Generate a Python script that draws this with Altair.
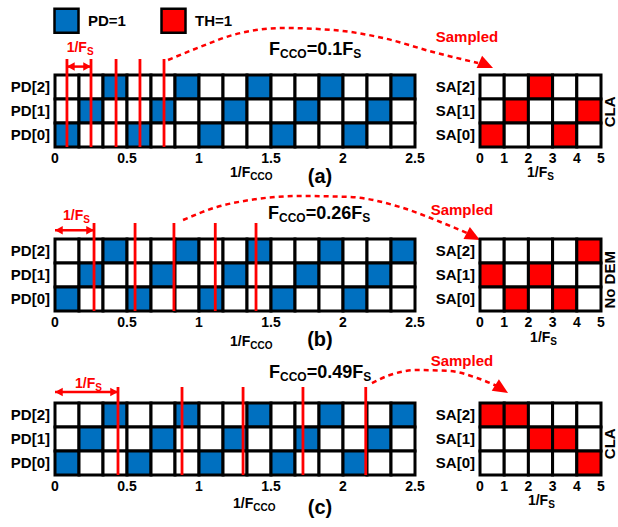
import altair as alt
import pandas as pd

FONT = "Liberation Sans"
BLUE = "#0070c0"
RED = "#ff0000"

# ---------------- data ----------------
pd_rows = ["PD[2]", "PD[1]", "PD[0]"]          # top to bottom
sa_rows = ["SA[2]", "SA[1]", "SA[0]"]
# which PD bit is high in each of the 15 cells of the CCO phase grid
pd_high = [0, 1, 2, 0, 1, 2, 0, 1, 2, 0, 1, 2, 0, 1, 2]
pd_span = 2.5                                   # grid length in 1/F_CCO
x_ticks_cco = [0, 0.5, 1, 1.5, 2, 2.5]
x_ticks_s = [0, 1, 2, 3, 4, 5]
fcco_ratio = ["0.1", "0.26", "0.49"]
# sampling instants (1/F_CCO units)
samples = [
    [0.083, 0.25, 0.424, 0.59, 0.757],
    [0.271, 0.556, 0.826, 1.113, 1.396],
    [0.4375, 0.882, 1.306, 1.722, 2.158],
]
# which SA bit is high in each 1/F_S slot
sa_high = [
    [0, 1, 2, 0, 1],
    [1, 0, 1, 0, 2],
    [2, 2, 1, 1, 0],
]
side_labels = ["CLA", "No DEM", "CLA"]
panel_labels = ["(a)", "(b)", "(c)"]
legend_labels = ["PD=1", "TH=1"]

# ---------------- annotation geometry (data units of each panel) ----------------
ANN = [
    dict(title=(1.486, -0.833), sampled=(2.861, -1.583), fs_label=(0.081, -0.958),
         fs_arrow=("between", -0.35),
         curve=[(0.785, -0.625), (1.007, -1.167), (1.236, -1.667), (1.583, -1.958),
                (1.931, -1.875), (2.278, -1.542), (2.625, -0.958), (2.938, -0.5)],
         tip=(3.042, -0.29), tip_angle=24,
         xtitle=(1.215, 4.25), stitle=(1.942, 4.25), plabel=(1.84, 4.25), side=(5.36, 1.54)),
    dict(title=(1.479, -0.833), sampled=(2.826, -1.208), fs_label=(0.056, -0.792),
         fs_arrow=("from0", -0.36),
         curve=[(0.889, -0.792), (1.125, -1.333), (1.354, -1.625), (1.701, -1.792),
                (2.049, -1.75), (2.396, -1.333), (2.694, -0.667), (2.861, -0.25)],
         tip=(2.951, 0.042), tip_angle=28,
         xtitle=(1.215, 4.46), stitle=(2.07, 4.3), plabel=(1.84, 4.2), side=(5.36, 1.7)),
    dict(title=(1.486, -1.042), sampled=(2.826, -1.75), fs_label=(0.139, -0.625),
         fs_arrow=("from0", -0.46),
         curve=[(2.201, -0.833), (2.326, -1.167), (2.514, -1.375), (2.743, -1.333),
                (2.931, -1.042), (3.069, -0.708)],
         tip=(3.146, -0.417), tip_angle=32,
         xtitle=(1.236, 4.375), stitle=(1.98, 4.25), plabel=(1.84, 4.375), side=(5.36, 1.7)),
]

LW, RW, H = 360, 121, 72
PPX_L = LW / pd_span
PPX_R = RW / 5.0
PPY = H / 3.0
LABEL_PAD = 5.0
GRID_SW = 3
RED_SW = 2.8

ADV = {"0": .556, "1": .556, "2": .556, "3": .556, "4": .556, "5": .556, "6": .556,
       "7": .556, "8": .556, "9": .556, ".": .278, "/": .278, "=": .584, "F": .611,
       "C": .722, "O": .778, "S": .667}


def text_w(s, size):
    return sum(ADV.get(ch, 0.6) for ch in s) * size


def pieces(x0, y0, parts, ppx):
    rows, cur = [], 0.0
    for t, size, sub in parts:
        rows.append(dict(x=x0 + cur / ppx, y=y0 + (3.0 / PPY if sub else 0.0), t=t, fs=size))
        cur += text_w(t, size)
    return pd.DataFrame(rows)


COLOR = alt.Color(
    "state:N",
    scale=alt.Scale(domain=["PD=1", "TH=1", "off"], range=[BLUE, RED, "white"]),
    legend=alt.Legend(
        orient="none", legendX=-2, legendY=-68, direction="horizontal", title=None,
        values=legend_labels, symbolType="square", symbolSize=576,
        symbolStrokeColor="black", symbolStrokeWidth=2.5, symbolOpacity=1,
        labelFont=FONT, labelFontSize=15, labelFontWeight="bold", labelColor="black",
        labelOffset=8, columnPadding=30, padding=0,
    ),
)


def text_layer(df, color="black", align="left", baseline="alphabetic"):
    return alt.Chart(df).mark_text(align=align, baseline=baseline, font=FONT,
                                   fontWeight="bold", color=color).encode(
        x="x:Q", y="y:Q", text="t:N", size=alt.Size("fs:Q", scale=None, legend=None))


def tick_labels(ticks, row_names, ppx):
    """Axis labels drawn through the panel scales (x ticks below, row names left)."""
    xt = pd.DataFrame({"x": ticks, "y": [3 + LABEL_PAD / PPY] * len(ticks),
                       "t": ["%g" % v for v in ticks], "fs": [14] * len(ticks)})
    yt = pd.DataFrame({"x": [-LABEL_PAD / ppx] * 3, "y": [r + 0.5 for r in range(3)],
                       "t": row_names, "fs": [15] * 3})
    return [text_layer(xt, align="center", baseline="top"),
            text_layer(yt, align="right", baseline="middle")]


def left_panel(k):
    a = ANN[k]
    n = len(pd_high)
    cells = []
    for i, hb in enumerate(pd_high):
        for r in range(3):
            bit = 2 - r
            cells.append(dict(x=i * pd_span / n, x2=(i + 1) * pd_span / n, y=r, y2=r + 1,
                              state="PD=1" if hb == bit else "off"))
    X = alt.X("x:Q", scale=alt.Scale(domain=[0, pd_span], nice=False, zero=False))
    Y = alt.Y("y:Q", scale=alt.Scale(domain=[0, 3], reverse=True, nice=False, zero=False))
    grid = alt.Chart(pd.DataFrame(cells)).mark_rect(
        stroke="black", strokeWidth=GRID_SW, strokeJoin="miter").encode(
        x=X, x2="x2:Q", y=Y, y2="y2:Q", color=COLOR)

    s = samples[k]
    rules = alt.Chart(pd.DataFrame({"x": s})).mark_rule(color=RED, strokeWidth=RED_SW).encode(
        x="x:Q", y=alt.datum(-0.667), y2=alt.datum(3))

    kind, ay = a["fs_arrow"]
    x0, x1 = (s[0], s[1]) if kind == "between" else (0.0, s[0])
    arr = pd.DataFrame({"x": [x0], "x2": [x1], "y": [ay]})
    shaft = alt.Chart(arr).mark_rule(color=RED, strokeWidth=2.5).encode(
        x="x:Q", x2="x2:Q", y="y:Q")
    headL = alt.Chart(pd.DataFrame({"x": [x0], "y": [ay]})).mark_point(
        shape="M0,0L1,-0.55L1,0.55Z", filled=True, size=240, color=RED, opacity=1).encode(
        x="x:Q", y="y:Q")
    headR = alt.Chart(pd.DataFrame({"x": [x1], "y": [ay]})).mark_point(
        shape="M0,0L-1,-0.55L-1,0.55Z", filled=True, size=240, color=RED, opacity=1).encode(
        x="x:Q", y="y:Q")
    fsl = text_layer(pieces(a["fs_label"][0], a["fs_label"][1],
                            [("1/F", 14, 0), ("S", 10, 1)], PPX_L), color=RED)

    cdf = pd.DataFrame([dict(i=j, x=p[0], y=p[1]) for j, p in enumerate(a["curve"])])
    curve = alt.Chart(cdf).mark_line(color=RED, strokeWidth=2.5, strokeDash=[5, 4],
                                     interpolate="monotone").encode(
        x="x:Q", y="y:Q", order="i:Q")
    tip = alt.Chart(pd.DataFrame({"x": [a["tip"][0]], "y": [a["tip"][1]]})).mark_point(
        shape="M0,0L-1,-0.45L-1,0.45Z", filled=True, size=900, color=RED, opacity=1,
        angle=a["tip_angle"]).encode(x="x:Q", y="y:Q")
    sampled = text_layer(pd.DataFrame([dict(x=a["sampled"][0], y=a["sampled"][1],
                                            t="Sampled", fs=15)]),
                         color=RED, align="center", baseline="middle")

    title = text_layer(pieces(a["title"][0], a["title"][1],
                              [("F", 18, 0), ("CCO", 12, 1),
                               ("=" + fcco_ratio[k] + "F", 18, 0), ("S", 12, 1)], PPX_L))
    xt = text_layer(pieces(a["xtitle"][0], a["xtitle"][1],
                           [("1/F", 14, 0), ("CCO", 10, 1)], PPX_L))
    pl = text_layer(pd.DataFrame([dict(x=a["plabel"][0], y=a["plabel"][1],
                                       t=panel_labels[k], fs=20)]),
                    align="center", baseline="middle")
    return alt.layer(grid, rules, shaft, headL, headR, fsl, curve, tip, sampled,
                     title, xt, pl, *tick_labels(x_ticks_cco, pd_rows, PPX_L)
                     ).properties(width=LW, height=H)


def right_panel(k):
    a = ANN[k]
    cells = []
    for j, hb in enumerate(sa_high[k]):
        for r in range(3):
            bit = 2 - r
            cells.append(dict(x=j, x2=j + 1, y=r, y2=r + 1,
                              state="TH=1" if hb == bit else "off"))
    X = alt.X("x:Q", scale=alt.Scale(domain=[0, 5], nice=False, zero=False))
    Y = alt.Y("y:Q", scale=alt.Scale(domain=[0, 3], reverse=True, nice=False, zero=False))
    grid = alt.Chart(pd.DataFrame(cells)).mark_rect(
        stroke="black", strokeWidth=GRID_SW, strokeJoin="miter").encode(
        x=X, x2="x2:Q", y=Y, y2="y2:Q", color=COLOR)
    side = alt.Chart(pd.DataFrame([dict(x=a["side"][0], y=a["side"][1], t=side_labels[k])])
                     ).mark_text(angle=270, align="center", baseline="middle", font=FONT,
                                 fontWeight="bold", fontSize=15, color="black").encode(
        x="x:Q", y="y:Q", text="t:N")
    st = text_layer(pieces(a["stitle"][0], a["stitle"][1],
                           [("1/F", 14, 0), ("S", 10, 1)], PPX_R))
    return alt.layer(grid, side, st, *tick_labels(x_ticks_s, sa_rows, PPX_R)
                     ).properties(width=RW, height=H)


rows = [alt.hconcat(left_panel(k), right_panel(k), spacing=65, bounds="flush")
        for k in range(3)]

# nested rows have no own height under flush bounds, so spacing is top-to-top
chart = alt.vconcat(*rows, spacing=164, bounds="flush").properties(
    autosize=alt.AutoSizeParams(type="none"),
    padding={"left": 55, "top": 75, "right": 563, "bottom": 452},
).configure_view(stroke=None).configure_axis(disable=True)

chart.save("out.html", embed_options={"renderer": "svg", "actions": False})
